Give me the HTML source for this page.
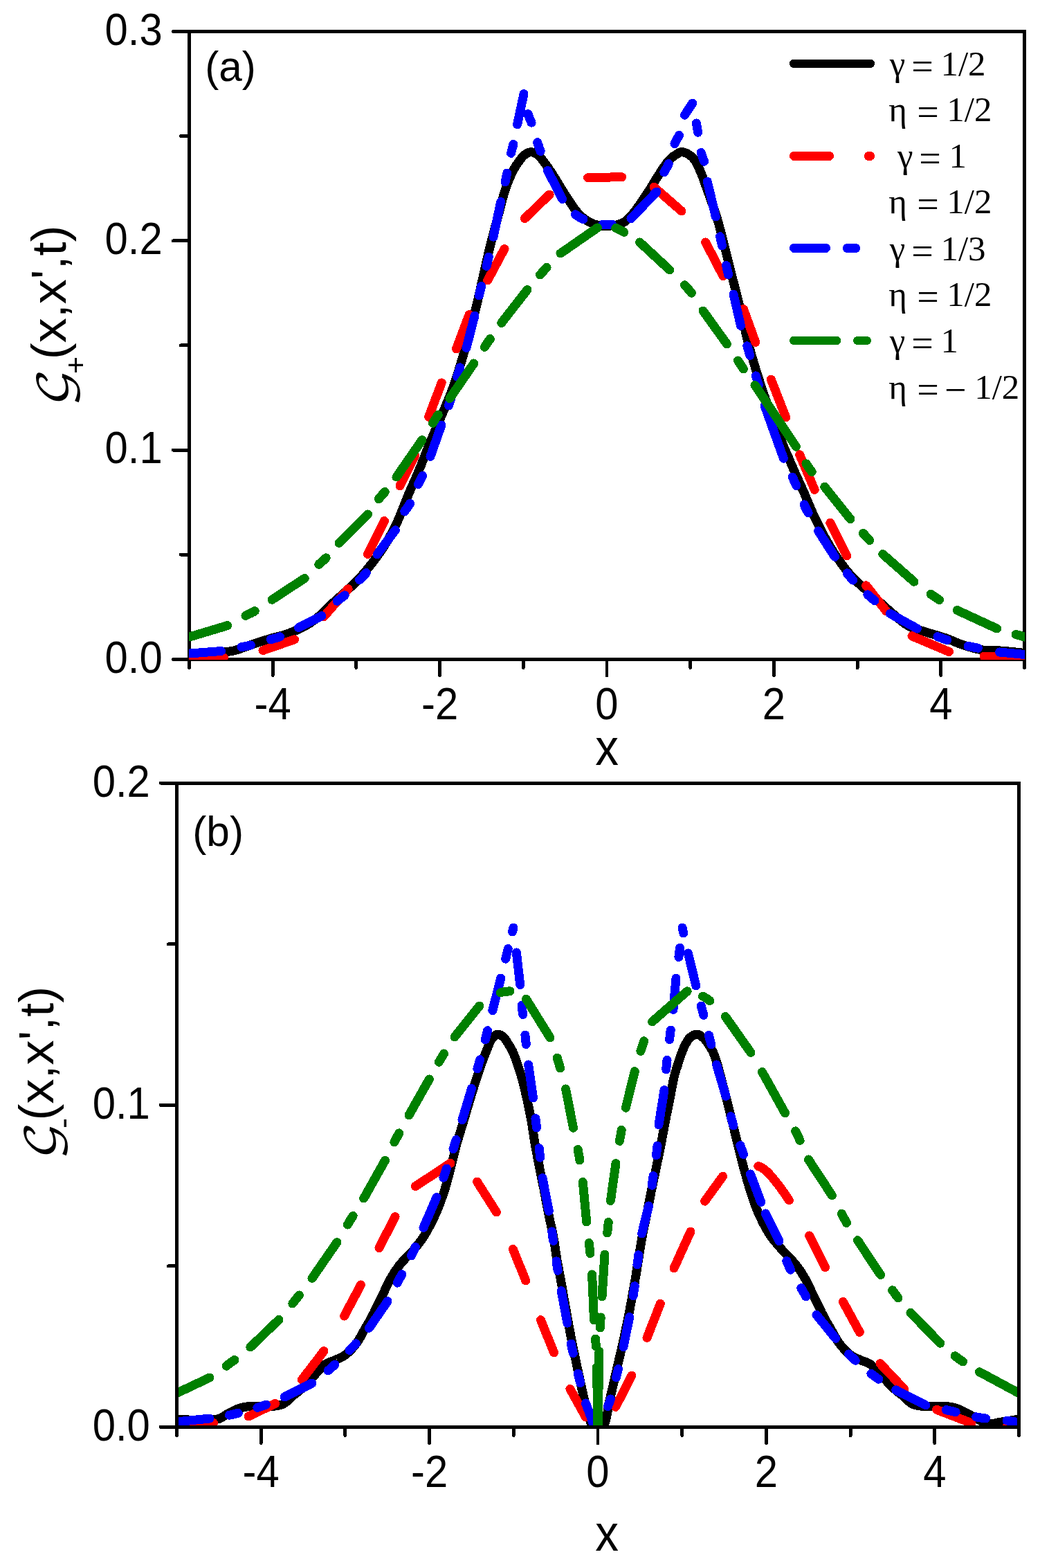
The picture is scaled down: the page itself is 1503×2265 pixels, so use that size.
<!DOCTYPE html>
<html lang="en"><head><meta charset="utf-8"><title>Figure</title>
<style>
html,body{margin:0;padding:0;background:#fff}
body{width:1503px;height:2265px;overflow:hidden}
svg text{font-family:"Liberation Sans",sans-serif;fill:#000}
svg .ser{font-family:"Liberation Serif",serif}
svg .scr{font-family:"DejaVu Math TeX Gyre","DejaVu Serif","Liberation Serif",serif}
</style></head><body>
<svg xmlns="http://www.w3.org/2000/svg" width="1503" height="2265" viewBox="0 0 1503 2265" style="display:block" shape-rendering="crispEdges">
<rect width="1503" height="2265" fill="#fff"/>
<g stroke="#000" stroke-width="4.9" fill="none" stroke-linecap="round">
<rect x="273.5" y="45.4" width="1207.0" height="907.0" stroke-linejoin="miter"/>
<line x1="273.5" y1="952.4" x2="273.5" y2="964.6"/>
<line x1="394.2" y1="952.4" x2="394.2" y2="975.6"/>
<line x1="514.9" y1="952.4" x2="514.9" y2="964.6"/>
<line x1="635.6" y1="952.4" x2="635.6" y2="975.6"/>
<line x1="756.3" y1="952.4" x2="756.3" y2="964.6"/>
<line x1="877.0" y1="952.4" x2="877.0" y2="975.6"/>
<line x1="997.7" y1="952.4" x2="997.7" y2="964.6"/>
<line x1="1118.4" y1="952.4" x2="1118.4" y2="975.6"/>
<line x1="1239.1" y1="952.4" x2="1239.1" y2="964.6"/>
<line x1="1359.8" y1="952.4" x2="1359.8" y2="975.6"/>
<line x1="1480.5" y1="952.4" x2="1480.5" y2="964.6"/>
<line x1="273.5" y1="952.4" x2="250.3" y2="952.4"/>
<line x1="273.5" y1="801.2" x2="261.3" y2="801.2"/>
<line x1="273.5" y1="650.1" x2="250.3" y2="650.1"/>
<line x1="273.5" y1="498.9" x2="261.3" y2="498.9"/>
<line x1="273.5" y1="347.7" x2="250.3" y2="347.7"/>
<line x1="273.5" y1="196.6" x2="261.3" y2="196.6"/>
<line x1="273.5" y1="45.4" x2="250.3" y2="45.4"/>
</g>
<clipPath id="ca"><rect x="272.9" y="45.4" width="1208.1" height="907.6"/></clipPath>
<g clip-path="url(#ca)">
<path d="M268.0,945.0 L269.8,944.9 L271.7,944.8 L273.5,944.6 L275.4,944.5 L277.2,944.4 L279.1,944.3 L280.9,944.2 L282.7,944.1 L284.6,943.9 L286.4,943.8 L288.2,943.7 L290.0,943.6 L291.7,943.5 L293.3,943.4 L295.0,943.3 L296.6,943.2 L298.2,943.1 L299.8,943.0 L301.5,942.9 L303.1,942.8 L304.7,942.7 L306.4,942.6 L308.1,942.5 L309.9,942.4 L312.0,942.3 L314.1,942.2 L316.3,942.1 L318.5,942.0 L320.7,941.9 L323.0,941.7 L325.3,941.6 L327.5,941.4 L329.8,941.2 L332.1,940.9 L334.3,940.6 L336.5,940.2 L338.7,939.7 L341.0,939.1 L343.2,938.5 L345.4,937.8 L347.6,937.0 L349.8,936.2 L352.0,935.4 L354.3,934.6 L356.5,933.7 L358.7,932.9 L360.9,932.2 L363.1,931.4 L365.3,930.7 L367.5,929.9 L369.8,929.2 L372.0,928.4 L374.2,927.7 L376.4,927.0 L378.7,926.2 L380.9,925.5 L383.1,924.8 L385.3,924.1 L387.6,923.4 L389.8,922.7 L392.0,922.0 L394.2,921.4 L396.5,920.8 L398.7,920.3 L400.9,919.7 L403.1,919.1 L405.4,918.6 L407.6,918.0 L409.8,917.3 L412.0,916.7 L414.2,916.0 L416.4,915.2 L418.7,914.4 L420.9,913.5 L423.2,912.6 L425.5,911.7 L427.8,910.7 L430.1,909.7 L432.3,908.7 L434.5,907.7 L436.7,906.6 L438.9,905.5 L441.0,904.4 L443.0,903.2 L444.8,902.1 L446.6,901.0 L448.3,899.9 L450.0,898.7 L451.7,897.5 L453.3,896.3 L454.9,895.1 L456.5,893.8 L458.1,892.5 L459.8,891.2 L461.4,889.9 L463.0,888.5 L464.8,887.0 L466.5,885.4 L468.2,883.8 L470.0,882.1 L471.7,880.4 L473.4,878.7 L475.1,877.0 L476.8,875.3 L478.6,873.5 L480.3,871.8 L482.1,870.1 L483.9,868.4 L485.8,866.6 L487.8,864.9 L489.8,863.1 L491.8,861.4 L493.9,859.6 L495.9,857.8 L498.0,856.1 L500.0,854.3 L502.0,852.5 L504.0,850.7 L505.9,848.9 L507.8,847.1 L509.6,845.4 L511.3,843.7 L513.0,842.0 L514.6,840.3 L516.2,838.7 L517.9,837.0 L519.5,835.2 L521.1,833.5 L522.7,831.7 L524.4,829.8 L526.1,827.8 L527.8,825.8 L530.0,823.1 L532.3,820.3 L534.7,817.3 L537.1,814.3 L539.5,811.1 L541.9,807.9 L544.3,804.7 L546.6,801.4 L548.9,798.2 L551.2,795.0 L553.3,791.8 L555.3,788.7 L557.0,786.0 L558.7,783.2 L560.3,780.6 L561.8,777.9 L563.3,775.2 L564.8,772.5 L566.2,769.9 L567.6,767.1 L569.0,764.4 L570.4,761.6 L571.8,758.7 L573.2,755.8 L574.8,752.5 L576.3,749.0 L577.8,745.5 L579.3,741.8 L580.8,738.2 L582.3,734.5 L583.7,730.8 L585.1,727.2 L586.6,723.6 L588.0,720.0 L589.4,716.5 L590.8,713.2 L592.0,710.4 L593.2,707.7 L594.3,705.1 L595.5,702.5 L596.6,699.9 L597.7,697.4 L598.8,694.8 L600.0,692.3 L601.1,689.6 L602.3,687.0 L603.5,684.2 L604.7,681.3 L606.2,677.6 L607.8,673.8 L609.4,669.9 L610.9,665.9 L612.6,661.9 L614.2,657.8 L615.8,653.6 L617.5,649.5 L619.2,645.3 L620.8,641.1 L622.5,637.0 L624.2,632.9 L626.0,628.7 L627.8,624.4 L629.6,620.1 L631.5,615.7 L633.4,611.3 L635.3,606.9 L637.2,602.6 L639.0,598.4 L640.7,594.3 L642.4,590.3 L644.0,586.6 L645.5,583.0 L646.5,580.6 L647.4,578.4 L648.2,576.3 L649.1,574.3 L649.9,572.3 L650.6,570.4 L651.4,568.5 L652.2,566.5 L652.9,564.5 L653.7,562.5 L654.5,560.3 L655.3,558.0 L656.4,554.9 L657.4,551.8 L658.5,548.6 L659.6,545.3 L660.7,541.9 L661.8,538.5 L662.9,535.0 L664.0,531.4 L665.1,527.8 L666.2,524.0 L667.4,520.3 L668.5,516.4 L670.0,511.4 L671.5,506.1 L673.0,500.7 L674.6,495.1 L676.2,489.3 L677.8,483.6 L679.3,477.8 L680.9,472.0 L682.4,466.2 L683.9,460.6 L685.3,455.2 L686.6,449.9 L687.7,445.5 L688.8,441.1 L689.8,436.8 L690.8,432.6 L691.7,428.4 L692.7,424.2 L693.6,420.1 L694.5,416.0 L695.4,411.9 L696.3,407.9 L697.2,404.0 L698.1,400.0 L698.9,396.5 L699.7,393.0 L700.4,389.7 L701.2,386.3 L701.9,383.0 L702.7,379.7 L703.4,376.4 L704.2,373.1 L704.9,369.8 L705.7,366.4 L706.6,363.0 L707.4,359.5 L708.4,355.6 L709.4,351.7 L710.4,347.7 L711.4,343.7 L712.5,339.6 L713.6,335.5 L714.7,331.4 L715.7,327.4 L716.8,323.4 L717.9,319.4 L719.0,315.4 L720.0,311.6 L720.9,308.1 L721.8,304.6 L722.7,301.1 L723.6,297.6 L724.5,294.2 L725.4,290.8 L726.3,287.4 L727.2,284.1 L728.1,280.9 L729.0,277.7 L730.0,274.7 L731.0,271.7 L731.8,269.4 L732.6,267.1 L733.5,264.9 L734.3,262.7 L735.2,260.6 L736.0,258.5 L736.9,256.5 L737.8,254.5 L738.7,252.5 L739.6,250.6 L740.5,248.8 L741.4,247.0 L742.2,245.6 L742.9,244.1 L743.7,242.8 L744.5,241.4 L745.3,240.1 L746.1,238.8 L746.9,237.5 L747.8,236.3 L748.6,235.1 L749.4,234.0 L750.2,232.9 L751.0,231.8 L751.6,231.0 L752.3,230.1 L752.9,229.3 L753.5,228.5 L754.1,227.8 L754.7,227.0 L755.4,226.3 L756.0,225.7 L756.7,225.0 L757.3,224.4 L758.0,223.8 L758.7,223.3 L759.3,222.9 L760.0,222.4 L760.7,222.0 L761.3,221.6 L762.0,221.2 L762.7,220.9 L763.4,220.6 L764.1,220.3 L764.8,220.1 L765.6,220.0 L766.3,219.9 L767.0,219.8 L767.8,219.8 L768.6,219.9 L769.4,220.0 L770.3,220.2 L771.1,220.4 L772.0,220.7 L772.8,221.0 L773.7,221.4 L774.5,221.8 L775.3,222.3 L776.1,222.8 L776.9,223.3 L777.9,224.0 L778.8,224.9 L779.7,225.8 L780.6,226.8 L781.5,227.8 L782.4,229.0 L783.3,230.1 L784.2,231.3 L785.0,232.5 L785.9,233.7 L786.7,234.9 L787.6,236.0 L788.5,237.2 L789.4,238.4 L790.3,239.7 L791.2,240.9 L792.1,242.1 L793.0,243.4 L793.8,244.7 L794.7,246.0 L795.6,247.3 L796.5,248.7 L797.4,250.0 L798.3,251.4 L799.3,253.0 L800.4,254.7 L801.4,256.4 L802.5,258.1 L803.5,259.8 L804.6,261.6 L805.7,263.4 L806.7,265.1 L807.8,266.9 L808.8,268.6 L809.9,270.3 L810.9,272.0 L811.9,273.5 L812.8,275.1 L813.8,276.6 L814.7,278.1 L815.6,279.6 L816.6,281.0 L817.5,282.5 L818.5,284.0 L819.4,285.5 L820.4,286.9 L821.4,288.4 L822.4,289.9 L823.4,291.4 L824.5,293.0 L825.6,294.6 L826.6,296.2 L827.7,297.8 L828.8,299.4 L829.9,301.0 L831.0,302.5 L832.1,304.0 L833.3,305.4 L834.4,306.8 L835.6,308.1 L836.6,309.2 L837.6,310.2 L838.6,311.2 L839.7,312.2 L840.7,313.1 L841.8,314.0 L842.8,314.9 L843.9,315.7 L845.0,316.5 L846.1,317.3 L847.2,318.1 L848.3,318.8 L849.4,319.5 L850.5,320.1 L851.6,320.7 L852.7,321.3 L853.8,321.8 L855.0,322.3 L856.1,322.8 L857.3,323.3 L858.5,323.7 L859.6,324.1 L860.8,324.5 L862.0,324.8 L863.2,325.1 L864.4,325.4 L865.6,325.6 L866.8,325.8 L868.0,326.0 L869.2,326.2 L870.5,326.3 L871.7,326.4 L873.0,326.4 L874.3,326.4 L875.6,326.4 L877.0,326.4 L878.8,326.3 L880.7,326.2 L882.6,326.0 L884.6,325.8 L886.7,325.6 L888.7,325.2 L890.8,324.9 L892.8,324.4 L894.7,323.9 L896.6,323.4 L898.4,322.7 L900.0,322.0 L901.3,321.3 L902.5,320.5 L903.7,319.7 L904.8,318.8 L905.9,317.9 L907.0,316.9 L908.0,315.9 L909.0,314.9 L910.0,313.8 L911.0,312.7 L912.0,311.6 L913.0,310.5 L914.2,309.2 L915.3,307.8 L916.5,306.4 L917.6,304.9 L918.8,303.5 L919.9,301.9 L921.0,300.4 L922.1,298.8 L923.2,297.2 L924.3,295.7 L925.4,294.1 L926.5,292.5 L927.6,290.9 L928.8,289.2 L929.9,287.5 L931.1,285.8 L932.2,284.1 L933.3,282.4 L934.4,280.7 L935.6,278.9 L936.7,277.2 L937.8,275.5 L938.9,273.7 L940.0,272.0 L941.1,270.3 L942.2,268.5 L943.3,266.7 L944.3,265.0 L945.4,263.2 L946.5,261.4 L947.5,259.7 L948.6,257.9 L949.7,256.2 L950.8,254.4 L951.9,252.7 L953.0,251.0 L954.1,249.3 L955.2,247.6 L956.3,245.9 L957.5,244.2 L958.6,242.5 L959.7,240.8 L960.9,239.2 L962.0,237.6 L963.1,236.1 L964.3,234.6 L965.4,233.3 L966.5,232.0 L967.3,231.1 L968.1,230.3 L968.9,229.6 L969.6,228.8 L970.4,228.1 L971.2,227.5 L972.0,226.8 L972.8,226.2 L973.5,225.6 L974.4,225.1 L975.2,224.5 L976.0,224.0 L976.8,223.5 L977.6,223.0 L978.4,222.5 L979.2,222.0 L980.0,221.5 L980.8,221.0 L981.7,220.6 L982.5,220.2 L983.3,219.9 L984.2,219.7 L985.1,219.6 L986.0,219.6 L987.2,219.7 L988.4,220.0 L989.7,220.4 L991.0,220.9 L992.3,221.5 L993.6,222.2 L995.0,223.0 L996.3,223.8 L997.5,224.8 L998.8,225.7 L999.9,226.7 L1001.0,227.7 L1002.1,228.9 L1003.2,230.2 L1004.2,231.6 L1005.2,233.1 L1006.1,234.7 L1006.9,236.3 L1007.8,238.0 L1008.6,239.6 L1009.4,241.3 L1010.2,243.1 L1010.9,244.7 L1011.7,246.4 L1012.5,248.1 L1013.2,249.7 L1013.9,251.4 L1014.5,253.0 L1015.1,254.7 L1015.7,256.4 L1016.4,258.1 L1017.0,259.9 L1017.6,261.8 L1018.3,263.7 L1019.0,265.6 L1019.7,267.7 L1020.9,270.9 L1022.1,274.3 L1023.4,277.9 L1024.8,281.6 L1026.2,285.5 L1027.6,289.4 L1029.0,293.4 L1030.4,297.5 L1031.8,301.4 L1033.2,305.4 L1034.4,309.3 L1035.6,313.0 L1036.6,316.4 L1037.6,319.8 L1038.6,323.1 L1039.5,326.5 L1040.4,329.8 L1041.3,333.1 L1042.1,336.4 L1043.0,339.7 L1043.8,343.0 L1044.6,346.3 L1045.5,349.5 L1046.3,352.8 L1047.1,355.9 L1047.9,359.0 L1048.7,362.1 L1049.4,365.2 L1050.2,368.2 L1051.0,371.3 L1051.7,374.4 L1052.5,377.4 L1053.2,380.5 L1054.0,383.7 L1054.8,386.8 L1055.6,390.0 L1056.5,393.4 L1057.4,396.9 L1058.2,400.3 L1059.1,403.8 L1060.0,407.2 L1060.9,410.7 L1061.9,414.3 L1062.8,417.8 L1063.7,421.5 L1064.7,425.2 L1065.6,429.1 L1066.6,433.0 L1067.8,438.1 L1069.1,443.4 L1070.4,448.9 L1071.6,454.5 L1072.9,460.2 L1074.3,466.0 L1075.6,471.8 L1077.0,477.6 L1078.3,483.3 L1079.7,489.0 L1081.1,494.5 L1082.5,499.8 L1083.8,504.5 L1085.0,509.0 L1086.3,513.5 L1087.6,517.9 L1088.9,522.3 L1090.2,526.6 L1091.5,530.9 L1092.8,535.3 L1094.2,539.6 L1095.6,544.0 L1097.0,548.5 L1098.5,553.0 L1100.1,558.0 L1101.8,563.0 L1103.5,568.0 L1105.2,573.1 L1106.9,578.2 L1108.7,583.3 L1110.5,588.4 L1112.4,593.5 L1114.2,598.7 L1116.1,603.8 L1118.1,608.9 L1120.0,614.0 L1122.0,619.2 L1124.2,624.6 L1126.4,630.0 L1128.6,635.4 L1130.9,640.8 L1133.1,646.2 L1135.4,651.5 L1137.7,656.7 L1139.9,661.8 L1142.0,666.8 L1144.0,671.5 L1146.0,676.0 L1147.4,679.2 L1148.7,682.2 L1150.0,685.1 L1151.3,688.0 L1152.5,690.7 L1153.7,693.4 L1154.9,696.1 L1156.2,698.8 L1157.4,701.5 L1158.6,704.2 L1159.9,707.1 L1161.2,710.0 L1162.7,713.4 L1164.1,716.8 L1165.6,720.3 L1167.1,723.8 L1168.5,727.3 L1170.0,730.9 L1171.6,734.4 L1173.1,738.0 L1174.7,741.7 L1176.3,745.3 L1178.0,748.9 L1179.8,752.5 L1181.8,756.5 L1183.8,760.5 L1185.9,764.6 L1188.1,768.7 L1190.3,772.8 L1192.5,776.9 L1194.8,781.0 L1197.1,785.1 L1199.4,789.1 L1201.8,793.0 L1204.1,796.7 L1206.5,800.4 L1208.6,803.6 L1210.7,806.7 L1212.9,809.8 L1215.0,812.8 L1217.2,815.8 L1219.4,818.7 L1221.6,821.6 L1223.8,824.4 L1226.1,827.1 L1228.4,829.8 L1230.7,832.4 L1233.0,835.0 L1235.1,837.2 L1237.3,839.4 L1239.5,841.5 L1241.7,843.5 L1244.0,845.5 L1246.2,847.4 L1248.5,849.4 L1250.7,851.3 L1253.0,853.2 L1255.2,855.1 L1257.5,857.0 L1259.7,859.0 L1261.9,861.0 L1264.1,863.0 L1266.3,865.1 L1268.5,867.1 L1270.7,869.1 L1273.0,871.1 L1275.2,873.2 L1277.4,875.2 L1279.6,877.2 L1281.8,879.1 L1284.1,881.1 L1286.3,883.0 L1288.5,884.9 L1290.7,886.8 L1292.9,888.7 L1295.0,890.7 L1297.2,892.6 L1299.4,894.5 L1301.7,896.3 L1303.9,898.1 L1306.1,899.8 L1308.4,901.4 L1310.7,902.8 L1313.0,904.2 L1315.1,905.3 L1317.3,906.3 L1319.5,907.2 L1321.7,908.0 L1323.9,908.8 L1326.1,909.5 L1328.3,910.2 L1330.6,910.8 L1332.8,911.5 L1335.0,912.1 L1337.3,912.8 L1339.5,913.5 L1341.7,914.2 L1343.9,914.9 L1346.1,915.5 L1348.3,916.2 L1350.5,916.8 L1352.8,917.4 L1355.0,918.1 L1357.2,918.7 L1359.4,919.4 L1361.6,920.0 L1363.8,920.8 L1366.0,921.5 L1368.2,922.3 L1370.5,923.2 L1372.7,924.0 L1374.9,925.0 L1377.1,925.9 L1379.3,926.8 L1381.6,927.8 L1383.8,928.7 L1386.0,929.6 L1388.2,930.4 L1390.5,931.2 L1392.7,932.0 L1394.9,932.7 L1397.1,933.4 L1399.3,934.1 L1401.5,934.7 L1403.8,935.4 L1406.0,936.0 L1408.2,936.5 L1410.5,937.1 L1412.7,937.6 L1414.9,938.0 L1417.2,938.4 L1419.4,938.8 L1421.6,939.1 L1423.8,939.3 L1425.9,939.4 L1428.0,939.5 L1430.2,939.6 L1432.3,939.6 L1434.5,939.6 L1436.7,939.7 L1439.0,939.7 L1441.3,939.8 L1443.6,939.9 L1446.0,940.0 L1449.1,940.2 L1452.2,940.5 L1455.4,940.8 L1458.7,941.1 L1462.1,941.5 L1465.5,941.8 L1468.9,942.2 L1472.4,942.6 L1475.8,942.9 L1479.2,943.3 L1482.6,943.7 L1486.0,944.0" fill="none" stroke="#000" stroke-width="13" stroke-linecap="round" stroke-linejoin="round"/>
<path d="M274.0,951.0 L323.4,950.0 M380.0,939.5 L425.5,923.8 M467.9,890.8 L503.2,850.7 M531.5,800.4 L555.4,752.5 M578.0,702.0 L599.6,658.0 M619.6,602.2 L638.2,553.0 M659.5,503.8 L678.1,454.5 M704.7,405.0 L729.0,359.5 M758.3,315.6 L794.2,281.0 M849.6,256.6 L898.7,255.7 M945.2,270.3 L985.0,305.0 M1019.7,350.0 L1045.0,398.6 M1074.5,446.5 L1091.8,494.4 M1114.4,548.2 L1135.7,603.0 M1155.7,656.8 L1177.2,707.3 M1199.8,755.2 L1223.8,803.0 M1251.7,845.7 L1281.0,883.0 M1318.0,918.8 L1371.5,941.5 M1422.0,948.0 L1486.0,951.0" fill="none" stroke="#f00" stroke-width="13" stroke-linecap="round" stroke-linejoin="round"/>
<path d="M274.0,944.0 L319.5,940.5 M349.0,934.6 L349.2,934.5 L350.5,934.3 L351.7,934.1 L352.9,933.9 L354.0,933.7 L355.2,933.5 L356.3,933.3 L357.4,933.1 L358.6,932.9 L359.8,932.6 L361.1,932.3 L362.5,932.0 M391.3,923.7 L391.7,923.6 L392.9,923.3 L394.0,923.0 L395.0,922.7 L396.1,922.4 L397.1,922.1 L398.1,921.9 L399.1,921.5 L400.2,921.2 L401.3,920.9 L402.5,920.5 L403.7,920.0 L404.5,919.7 M431.5,906.7 L464.8,889.7 M487.1,868.3 L487.5,868.0 L488.5,867.2 L489.4,866.5 L490.3,865.8 L491.2,865.2 L492.0,864.6 L492.8,864.1 L493.6,863.5 L494.4,862.9 L495.3,862.3 L496.1,861.6 L497.0,860.8 L498.0,860.0 L498.2,859.8 M519.6,837.6 L520.4,836.8 L521.3,835.9 L522.1,835.1 L522.8,834.4 L523.6,833.6 L524.3,832.9 L525.0,832.2 L525.7,831.5 L526.4,830.7 L527.2,829.9 L528.0,829.0 L528.8,828.0 L529.2,827.5 M545.0,801.0 L571.4,765.8 M584.8,738.8 L585.4,737.8 L586.1,736.8 L586.8,735.8 L587.4,734.8 L588.1,733.9 L588.8,733.0 L589.4,732.1 L590.1,731.2 L590.7,730.3 L591.4,729.3 L592.0,728.2 L592.5,727.3 M604.3,699.6 L604.6,699.0 L605.2,697.7 L605.8,696.6 L606.3,695.5 L606.9,694.5 L607.4,693.5 L608.0,692.5 L608.5,691.5 L609.1,690.5 L609.6,689.5 L610.2,688.4 L610.7,687.3 M622.0,659.4 L638.0,614.0 M648.5,585.9 L648.8,585.0 L649.8,581.8 L650.8,578.6 L651.8,575.2 L652.5,572.8 M660.7,544.0 L660.8,543.7 L661.9,540.3 L663.0,536.8 L664.1,533.4 L664.9,530.9 M674.0,502.4 L686.0,456.0 M692.3,426.8 L692.7,425.0 L693.5,421.8 L694.3,418.6 L695.1,415.4 L695.6,413.5 M703.1,384.6 L703.9,381.5 L704.7,378.0 L705.5,374.5 L706.3,371.3 M713.0,342.2 L723.7,291.6 M730.0,263.1 L730.0,262.9 L730.4,261.4 L730.7,259.9 L731.0,258.4 L731.3,256.9 L731.7,255.4 L732.0,253.9 L732.3,252.3 L732.7,250.7 L732.8,250.0 M738.5,221.4 L738.6,220.9 L739.0,219.6 L739.3,218.2 L739.6,216.9 L740.0,215.7 L740.3,214.5 L740.6,213.2 L741.0,212.0 L741.3,210.7 L741.6,209.3 L741.8,208.4 M747.6,179.8 L757.0,135.5 M763.0,164.6 L763.3,165.4 L763.7,166.8 L764.2,168.1 L764.8,169.4 L765.3,170.7 L765.8,171.9 L766.3,173.1 L766.9,174.4 L767.4,175.6 L767.9,177.0 L768.1,177.2 M776.7,205.7 L777.0,206.5 L777.4,207.9 L777.9,209.1 L778.3,210.4 L778.7,211.5 L779.0,212.7 L779.4,213.8 L779.8,214.9 L780.2,216.0 L780.6,217.2 L781.1,218.4 L781.1,218.5 M791.5,246.4 L812.8,287.6 M831.5,309.8 L832.8,310.8 L834.2,311.8 L835.6,312.7 L837.0,313.5 L838.4,314.4 L839.9,315.1 L841.3,315.9 L842.9,316.6 L842.9,316.7 M871.0,324.1 L871.8,324.2 L873.6,324.3 L875.3,324.3 L877.1,324.4 L878.9,324.3 L880.6,324.3 L882.3,324.2 L884.1,324.0 L884.3,324.0 M912.0,315.6 L949.0,277.0 M959.8,248.9 L959.8,248.9 L960.5,247.5 L961.2,246.2 L961.9,245.0 L962.6,243.7 L963.3,242.5 L963.9,241.2 L964.6,239.9 L965.2,238.6 L965.9,237.2 L966.2,236.5 M975.0,207.6 L975.0,207.5 L975.7,206.1 L976.3,204.8 L977.0,203.5 L977.7,202.2 L978.4,201.0 L979.1,199.8 L979.8,198.5 L980.5,197.2 L981.2,195.9 L981.4,195.4 M989.5,166.3 L1000.7,149.1 M1006.4,178.0 L1006.7,179.5 L1006.9,180.7 L1007.1,181.8 L1007.3,182.8 L1007.4,183.7 L1007.6,184.6 L1007.7,185.5 L1007.9,186.4 L1008.0,187.3 L1008.2,188.3 L1008.3,189.3 L1008.5,190.3 L1008.7,191.3 M1013.2,220.5 L1013.4,221.3 L1013.8,222.7 L1014.2,224.0 L1014.7,225.3 L1015.2,226.6 L1015.7,227.8 L1016.1,229.0 L1016.6,230.3 L1017.1,231.5 L1017.5,232.8 L1017.6,233.2 M1022.3,262.3 L1034.3,313.0 M1040.6,341.7 L1040.9,343.1 L1041.3,344.6 L1041.6,346.0 L1041.9,347.5 L1042.2,349.0 L1042.5,350.5 L1042.9,352.1 L1043.2,353.8 L1043.5,354.8 M1049.5,383.5 L1049.9,385.2 L1050.5,388.0 L1051.2,391.0 L1052.0,394.0 L1052.6,396.6 M1060.0,425.0 L1070.5,470.5 M1079.8,499.8 L1080.8,503.0 L1081.7,506.2 L1082.7,509.6 L1083.7,512.9 L1083.8,513.4 M1092.4,542.9 L1092.9,544.7 L1094.0,548.4 L1095.1,552.2 L1096.2,556.0 L1096.3,556.5 M1105.0,586.0 L1132.4,662.2 M1145.1,689.0 L1145.4,689.6 L1146.7,692.4 L1148.0,695.3 L1149.4,698.5 L1150.7,701.4 M1162.1,728.9 L1163.3,731.6 L1165.0,735.0 L1167.1,739.1 L1168.1,741.0 M1182.5,767.0 L1206.5,804.4 M1224.1,827.9 L1224.9,828.9 L1227.7,832.3 L1230.1,835.1 L1232.4,837.7 L1232.8,838.2 M1253.8,858.8 L1254.2,859.2 L1257.0,861.6 L1260.5,864.6 L1264.0,867.6 M1286.5,886.5 L1325.5,908.0 M1355.0,919.7 L1358.9,921.1 L1363.5,922.8 L1367.2,924.1 L1368.6,924.6 M1399.1,933.3 L1402.3,934.0 L1406.0,934.8 L1410.2,935.7 L1413.3,936.2 M1444.5,942.0 L1486.0,946.0" fill="none" stroke="#00f" stroke-width="13" stroke-linecap="round" stroke-linejoin="round"/>
<path d="M274.0,920.0 L328.6,903.6 M355.0,889.4 L355.7,889.0 L356.9,888.4 L358.0,887.9 L359.1,887.4 L360.1,886.9 L361.2,886.4 L362.2,885.9 L363.2,885.4 L364.3,884.8 L365.4,884.3 L366.6,883.7 L367.8,883.0 L368.3,882.7 M393.2,866.2 L440.2,835.4 M460.7,815.4 L461.5,814.7 L462.3,813.9 L463.2,813.2 L464.0,812.5 L464.8,811.8 L465.6,811.0 L466.4,810.3 L467.3,809.6 L468.1,808.8 L469.0,807.9 L470.0,807.0 L471.2,805.8 M490.0,784.3 L531.5,743.0 M547.4,720.8 L547.5,720.6 L548.8,719.0 L549.6,718.0 L550.4,717.0 L551.2,716.2 L551.9,715.3 L552.7,714.5 L553.4,713.8 L554.1,713.0 L554.8,712.2 L555.6,711.4 L556.3,710.6 M573.0,689.0 L610.0,635.5 M625.4,611.2 L625.7,610.8 L627.5,607.9 L629.3,605.1 L631.1,602.3 L632.9,599.6 L633.3,599.1 M650.0,575.6 L684.8,525.0 M700.4,501.4 L701.2,500.1 L703.1,497.2 L705.0,494.4 L706.9,491.7 L708.3,489.6 M724.7,466.5 L762.0,418.6 M780.5,396.9 L782.2,395.1 L784.3,392.7 L786.5,390.3 L788.6,388.0 L790.1,386.4 M810.0,366.0 L863.4,329.0 M889.7,329.4 L889.8,329.4 L890.9,329.8 L891.9,330.3 L893.0,330.8 L894.1,331.3 L895.1,331.8 L896.2,332.4 L897.3,332.9 L898.5,333.5 L899.6,334.2 L900.8,334.8 L901.8,335.4 M924.6,350.0 L967.8,390.0 M989.4,411.7 L990.5,412.9 L993.0,415.7 L995.5,418.5 L997.8,421.3 L999.4,423.3 M1016.0,449.0 L1050.5,497.0 M1066.5,520.9 L1066.5,521.0 L1068.3,523.7 L1070.1,526.4 L1071.9,529.1 L1073.7,531.9 L1074.4,532.9 M1091.0,556.4 L1150.5,645.2 M1165.0,669.9 L1165.6,670.7 L1167.1,673.1 L1168.8,675.6 L1170.5,678.0 L1172.2,680.2 L1173.2,681.6 M1191.8,703.3 L1229.0,749.8 M1247.4,770.3 L1247.9,770.9 L1249.8,772.9 L1251.7,775.0 L1253.6,777.1 L1255.5,779.2 L1256.7,780.5 M1275.7,800.4 L1321.0,840.3 M1345.0,858.2 L1345.1,858.3 L1347.5,859.9 L1350.0,861.6 L1352.6,863.3 L1355.3,865.1 L1357.5,866.5 M1383.4,881.6 L1440.7,908.0 M1468.1,916.5 L1471.0,917.3 L1474.8,918.3 L1478.5,919.4 L1482.2,920.4 L1486.0,921.5" fill="none" stroke="#008000" stroke-width="13" stroke-linecap="round" stroke-linejoin="round"/>
</g>
<clipPath id="cb"><rect x="255.45" y="1131.35" width="1217.1" height="930.0500000000002"/></clipPath>
<g clip-path="url(#cb)">
<path d="M250.0,2050.7 L252.5,2050.7 L255.0,2050.8 L257.6,2050.8 L260.1,2050.8 L262.7,2050.9 L265.2,2050.9 L267.8,2050.9 L270.3,2050.9 L272.8,2051.0 L275.2,2051.0 L277.6,2051.0 L280.0,2051.0 L282.0,2051.0 L284.1,2051.0 L286.1,2051.0 L288.1,2051.0 L290.1,2051.0 L292.1,2051.0 L294.0,2051.0 L295.9,2051.0 L297.8,2051.0 L299.6,2050.9 L301.3,2050.9 L303.0,2050.8 L304.3,2050.7 L305.5,2050.7 L306.7,2050.7 L307.8,2050.6 L308.9,2050.6 L310.0,2050.5 L311.1,2050.4 L312.2,2050.3 L313.3,2050.2 L314.3,2050.0 L315.4,2049.7 L316.5,2049.4 L317.6,2049.0 L318.8,2048.5 L319.9,2047.9 L321.0,2047.3 L322.1,2046.6 L323.2,2045.9 L324.3,2045.2 L325.4,2044.5 L326.5,2043.8 L327.6,2043.1 L328.7,2042.4 L329.8,2041.8 L330.9,2041.2 L332.0,2040.6 L333.1,2040.1 L334.2,2039.5 L335.3,2038.9 L336.4,2038.4 L337.5,2037.8 L338.6,2037.3 L339.7,2036.8 L340.8,2036.3 L342.0,2035.8 L343.1,2035.4 L344.2,2035.0 L345.3,2034.6 L346.4,2034.3 L347.5,2034.0 L348.6,2033.6 L349.8,2033.4 L350.9,2033.1 L352.0,2032.8 L353.1,2032.6 L354.3,2032.4 L355.4,2032.2 L356.5,2032.0 L357.6,2031.9 L358.7,2031.7 L359.8,2031.6 L360.9,2031.6 L362.0,2031.5 L363.1,2031.5 L364.3,2031.5 L365.4,2031.5 L366.5,2031.4 L367.6,2031.4 L368.7,2031.4 L369.8,2031.4 L370.9,2031.4 L372.0,2031.4 L373.1,2031.4 L374.2,2031.4 L375.3,2031.4 L376.4,2031.4 L377.5,2031.4 L378.6,2031.4 L379.7,2031.4 L380.8,2031.4 L381.9,2031.4 L383.0,2031.4 L384.1,2031.4 L385.2,2031.4 L386.3,2031.4 L387.5,2031.4 L388.6,2031.4 L389.7,2031.5 L390.8,2031.4 L391.9,2031.4 L393.1,2031.4 L394.2,2031.3 L395.3,2031.2 L396.4,2031.1 L397.5,2031.0 L398.6,2030.8 L399.8,2030.6 L400.9,2030.5 L402.0,2030.3 L403.2,2030.0 L404.3,2029.8 L405.4,2029.5 L406.5,2029.1 L407.6,2028.7 L408.6,2028.3 L409.7,2027.8 L410.9,2027.1 L412.0,2026.4 L413.1,2025.5 L414.3,2024.6 L415.4,2023.6 L416.5,2022.6 L417.5,2021.6 L418.6,2020.5 L419.7,2019.5 L420.8,2018.4 L421.9,2017.5 L423.0,2016.5 L424.1,2015.6 L425.2,2014.7 L426.3,2013.8 L427.4,2013.0 L428.6,2012.1 L429.7,2011.3 L430.8,2010.4 L431.9,2009.5 L433.0,2008.6 L434.1,2007.7 L435.2,2006.8 L436.3,2005.8 L437.5,2004.7 L438.6,2003.6 L439.7,2002.5 L440.8,2001.4 L441.9,2000.2 L443.0,1999.0 L444.1,1997.8 L445.3,1996.6 L446.4,1995.4 L447.6,1994.2 L448.8,1992.9 L450.0,1991.6 L451.5,1990.0 L453.1,1988.2 L454.7,1986.4 L456.3,1984.5 L458.0,1982.6 L459.6,1980.7 L461.3,1978.9 L463.0,1977.1 L464.8,1975.3 L466.5,1973.7 L468.2,1972.3 L469.9,1971.0 L471.3,1970.1 L472.7,1969.3 L474.1,1968.6 L475.5,1968.0 L476.9,1967.4 L478.3,1966.9 L479.8,1966.4 L481.2,1965.9 L482.6,1965.4 L483.9,1964.9 L485.3,1964.3 L486.6,1963.7 L487.8,1963.1 L488.9,1962.6 L490.1,1962.0 L491.2,1961.5 L492.3,1961.0 L493.4,1960.4 L494.5,1959.9 L495.6,1959.3 L496.7,1958.6 L497.7,1957.9 L498.8,1957.2 L499.9,1956.4 L501.2,1955.3 L502.6,1954.2 L503.9,1953.0 L505.2,1951.7 L506.6,1950.4 L507.9,1949.1 L509.2,1947.6 L510.5,1946.2 L511.7,1944.8 L512.9,1943.3 L514.1,1941.8 L515.2,1940.4 L516.2,1939.0 L517.2,1937.5 L518.1,1936.1 L519.0,1934.6 L519.9,1933.1 L520.8,1931.6 L521.6,1930.0 L522.4,1928.5 L523.3,1927.0 L524.1,1925.4 L524.9,1923.9 L525.8,1922.4 L526.7,1920.9 L527.6,1919.3 L528.5,1917.8 L529.4,1916.2 L530.3,1914.7 L531.2,1913.1 L532.1,1911.6 L533.0,1910.0 L533.9,1908.5 L534.8,1906.9 L535.7,1905.4 L536.5,1903.8 L537.3,1902.3 L538.1,1900.7 L538.9,1899.2 L539.7,1897.6 L540.5,1896.1 L541.2,1894.5 L542.0,1893.0 L542.8,1891.4 L543.5,1889.9 L544.3,1888.3 L545.0,1886.8 L545.8,1885.2 L546.6,1883.6 L547.4,1882.0 L548.1,1880.4 L548.9,1878.8 L549.7,1877.2 L550.5,1875.6 L551.2,1873.9 L552.0,1872.3 L552.8,1870.7 L553.5,1869.1 L554.3,1867.5 L555.1,1865.9 L555.9,1864.3 L556.6,1862.7 L557.4,1861.2 L558.1,1859.6 L558.9,1858.0 L559.6,1856.4 L560.4,1854.9 L561.2,1853.3 L562.0,1851.8 L562.8,1850.2 L563.6,1848.7 L564.4,1847.2 L565.2,1845.8 L566.1,1844.3 L566.9,1842.9 L567.8,1841.4 L568.7,1840.0 L569.5,1838.6 L570.4,1837.2 L571.3,1835.9 L572.2,1834.5 L573.2,1833.2 L574.1,1831.9 L575.0,1830.6 L575.9,1829.5 L576.7,1828.4 L577.6,1827.3 L578.4,1826.2 L579.3,1825.2 L580.2,1824.2 L581.1,1823.1 L582.0,1822.1 L582.9,1821.1 L583.8,1820.1 L584.8,1819.1 L585.7,1818.0 L586.7,1816.9 L587.8,1815.7 L588.9,1814.6 L590.0,1813.5 L591.2,1812.3 L592.3,1811.2 L593.4,1810.0 L594.6,1808.9 L595.7,1807.7 L596.8,1806.5 L597.9,1805.3 L599.0,1804.0 L600.2,1802.6 L601.3,1801.3 L602.4,1799.9 L603.6,1798.5 L604.7,1797.1 L605.8,1795.6 L606.9,1794.1 L608.0,1792.6 L609.1,1791.0 L610.3,1789.4 L611.4,1787.7 L612.5,1786.0 L614.0,1783.6 L615.5,1781.1 L617.0,1778.5 L618.5,1775.8 L620.0,1773.0 L621.5,1770.2 L623.0,1767.3 L624.4,1764.4 L625.9,1761.4 L627.3,1758.5 L628.6,1755.6 L629.9,1752.8 L631.1,1750.1 L632.3,1747.3 L633.4,1744.6 L634.5,1741.8 L635.6,1739.0 L636.6,1736.2 L637.6,1733.5 L638.6,1730.7 L639.6,1727.9 L640.6,1725.1 L641.5,1722.3 L642.4,1719.5 L643.3,1716.7 L644.1,1714.0 L644.9,1711.2 L645.7,1708.4 L646.5,1705.7 L647.2,1702.9 L648.0,1700.1 L648.7,1697.3 L649.4,1694.5 L650.2,1691.8 L650.9,1689.0 L651.6,1686.2 L652.3,1683.4 L653.0,1680.7 L653.7,1677.9 L654.4,1675.1 L655.0,1672.4 L655.7,1669.6 L656.4,1666.8 L657.0,1664.1 L657.7,1661.3 L658.4,1658.5 L659.2,1655.8 L659.9,1653.0 L660.7,1650.2 L661.5,1647.4 L662.3,1644.7 L663.1,1641.9 L664.0,1639.1 L664.8,1636.3 L665.7,1633.6 L666.5,1630.8 L667.4,1628.0 L668.2,1625.2 L669.1,1622.5 L669.9,1619.7 L670.7,1616.9 L671.5,1614.1 L672.4,1611.4 L673.2,1608.6 L674.0,1605.8 L674.8,1603.0 L675.6,1600.3 L676.5,1597.5 L677.3,1594.7 L678.1,1591.9 L679.0,1589.2 L679.8,1586.4 L680.7,1583.6 L681.5,1580.7 L682.4,1577.9 L683.3,1575.0 L684.2,1572.1 L685.1,1569.2 L686.0,1566.3 L686.9,1563.5 L687.7,1560.8 L688.6,1558.2 L689.4,1555.6 L690.2,1553.2 L690.8,1551.5 L691.3,1549.8 L691.9,1548.2 L692.4,1546.7 L692.9,1545.1 L693.4,1543.6 L693.9,1542.2 L694.4,1540.7 L695.0,1539.3 L695.5,1537.9 L696.0,1536.4 L696.5,1535.0 L697.0,1533.7 L697.5,1532.4 L698.0,1531.1 L698.5,1529.8 L698.9,1528.5 L699.4,1527.2 L699.9,1526.0 L700.4,1524.7 L700.9,1523.5 L701.4,1522.3 L701.8,1521.1 L702.3,1519.9 L702.7,1518.9 L703.1,1517.8 L703.5,1516.8 L703.9,1515.8 L704.2,1514.8 L704.6,1513.8 L705.0,1512.8 L705.4,1511.8 L705.7,1510.8 L706.1,1509.9 L706.6,1508.9 L707.0,1508.0 L707.4,1507.1 L707.8,1506.3 L708.2,1505.4 L708.6,1504.5 L709.1,1503.7 L709.5,1502.9 L709.9,1502.0 L710.4,1501.3 L710.9,1500.5 L711.4,1499.8 L711.9,1499.1 L712.5,1498.5 L713.0,1498.0 L713.6,1497.5 L714.2,1496.9 L714.7,1496.4 L715.4,1496.0 L716.0,1495.5 L716.6,1495.1 L717.2,1494.8 L717.9,1494.5 L718.5,1494.3 L719.2,1494.2 L719.8,1494.1 L720.5,1494.1 L721.2,1494.3 L721.9,1494.5 L722.6,1494.8 L723.3,1495.1 L724.0,1495.5 L724.7,1496.0 L725.4,1496.4 L726.1,1496.9 L726.8,1497.5 L727.4,1498.0 L728.0,1498.5 L728.6,1499.1 L729.2,1499.7 L729.7,1500.3 L730.2,1501.0 L730.7,1501.7 L731.2,1502.4 L731.6,1503.1 L732.1,1503.9 L732.6,1504.6 L733.0,1505.4 L733.5,1506.2 L734.0,1507.0 L734.6,1508.0 L735.2,1509.0 L735.9,1510.0 L736.5,1511.0 L737.2,1512.1 L737.8,1513.2 L738.4,1514.3 L739.1,1515.4 L739.7,1516.5 L740.3,1517.6 L740.9,1518.8 L741.4,1519.9 L741.9,1521.1 L742.5,1522.3 L743.0,1523.5 L743.4,1524.8 L743.9,1526.0 L744.3,1527.2 L744.8,1528.5 L745.2,1529.8 L745.7,1531.1 L746.1,1532.4 L746.5,1533.7 L747.0,1535.0 L747.5,1536.4 L748.0,1537.9 L748.5,1539.3 L749.0,1540.7 L749.5,1542.2 L750.0,1543.6 L750.5,1545.1 L751.0,1546.6 L751.5,1548.2 L752.0,1549.8 L752.5,1551.5 L753.0,1553.2 L753.7,1555.6 L754.4,1558.1 L755.1,1560.8 L755.8,1563.5 L756.5,1566.3 L757.2,1569.2 L757.9,1572.0 L758.6,1574.9 L759.3,1577.8 L760.0,1580.7 L760.7,1583.6 L761.3,1586.4 L761.9,1589.2 L762.5,1591.9 L763.1,1594.7 L763.7,1597.5 L764.3,1600.3 L764.8,1603.0 L765.4,1605.8 L765.9,1608.6 L766.5,1611.4 L767.0,1614.1 L767.5,1616.9 L768.0,1619.7 L768.5,1622.5 L769.0,1625.2 L769.4,1628.0 L769.8,1630.8 L770.3,1633.6 L770.7,1636.4 L771.1,1639.1 L771.5,1641.9 L771.9,1644.7 L772.4,1647.5 L772.8,1650.2 L773.3,1653.0 L773.8,1655.8 L774.3,1658.5 L774.8,1661.3 L775.3,1664.1 L775.8,1666.8 L776.4,1669.6 L776.9,1672.4 L777.4,1675.1 L778.0,1677.9 L778.5,1680.7 L779.1,1683.4 L779.6,1686.2 L780.1,1689.0 L780.7,1691.7 L781.3,1694.5 L781.8,1697.3 L782.4,1700.1 L783.0,1702.8 L783.5,1705.6 L784.1,1708.4 L784.6,1711.2 L785.2,1713.9 L785.8,1716.7 L786.3,1719.5 L786.8,1722.3 L787.4,1725.0 L787.9,1727.8 L788.4,1730.6 L788.9,1733.4 L789.4,1736.2 L789.9,1738.9 L790.5,1741.7 L791.0,1744.5 L791.5,1747.3 L792.1,1750.0 L792.6,1752.8 L793.2,1755.6 L793.7,1758.3 L794.3,1761.1 L794.9,1763.9 L795.5,1766.6 L796.2,1769.4 L796.8,1772.1 L797.4,1774.9 L797.9,1777.7 L798.5,1780.4 L799.1,1783.2 L799.6,1786.0 L800.1,1788.8 L800.6,1791.7 L801.1,1794.5 L801.5,1797.4 L801.9,1800.2 L802.4,1803.1 L802.8,1806.0 L803.2,1808.8 L803.6,1811.6 L804.1,1814.5 L804.5,1817.2 L805.0,1820.0 L805.4,1822.5 L805.9,1825.0 L806.3,1827.3 L806.7,1829.6 L807.2,1832.0 L807.6,1834.3 L808.1,1836.6 L808.6,1839.1 L809.0,1841.6 L809.5,1844.2 L810.1,1847.0 L810.6,1850.0 L811.5,1855.1 L812.5,1860.6 L813.5,1866.5 L814.6,1872.7 L815.7,1879.1 L816.9,1885.7 L818.1,1892.4 L819.2,1899.1 L820.4,1905.7 L821.6,1912.2 L822.8,1918.5 L823.9,1924.5 L824.9,1929.6 L825.9,1934.7 L826.9,1939.8 L827.9,1944.8 L828.9,1949.7 L829.9,1954.6 L830.9,1959.5 L831.9,1964.3 L832.9,1969.0 L833.9,1973.7 L834.9,1978.4 L835.9,1983.0 L836.8,1987.1 L837.7,1991.2 L838.5,1995.3 L839.4,1999.3 L840.3,2003.4 L841.1,2007.3 L842.0,2011.2 L842.9,2015.1 L843.8,2018.9 L844.7,2022.5 L845.6,2026.1 L846.5,2029.6 L847.2,2032.4 L847.9,2035.2 L848.6,2038.0 L849.3,2040.7 L850.0,2043.5 L850.7,2046.1 L851.5,2048.7 L852.2,2051.1 L853.1,2053.4 L853.9,2055.5 L854.8,2057.3 L855.8,2059.0 L856.4,2059.9 L857.1,2060.6 L857.7,2061.3 L858.4,2061.9 L859.1,2062.5 L859.8,2063.0 L860.5,2063.5 L861.2,2064.0 L861.9,2064.4 L862.6,2064.9 L863.3,2065.4 L864.0,2066.0 L864.8,2065.3 L865.5,2064.7 L866.3,2064.1 L867.1,2063.5 L867.9,2062.9 L868.7,2062.4 L869.5,2061.7 L870.2,2061.1 L871.0,2060.3 L871.7,2059.5 L872.4,2058.6 L873.0,2057.6 L874.0,2055.6 L874.9,2053.4 L875.6,2050.9 L876.3,2048.2 L876.9,2045.3 L877.5,2042.2 L878.1,2039.1 L878.6,2035.9 L879.1,2032.6 L879.7,2029.4 L880.3,2026.1 L881.0,2023.0 L881.8,2019.4 L882.7,2015.6 L883.6,2011.8 L884.5,2008.0 L885.4,2004.1 L886.3,2000.1 L887.2,1996.2 L888.1,1992.2 L889.0,1988.2 L889.9,1984.2 L890.8,1980.3 L891.7,1976.4 L892.6,1972.5 L893.5,1968.6 L894.4,1964.7 L895.3,1960.7 L896.3,1956.8 L897.2,1952.9 L898.1,1949.0 L899.0,1945.1 L899.9,1941.2 L900.7,1937.4 L901.6,1933.6 L902.4,1929.8 L903.1,1926.4 L903.8,1923.0 L904.5,1919.6 L905.2,1916.3 L905.9,1913.0 L906.6,1909.7 L907.2,1906.4 L907.9,1903.2 L908.5,1899.9 L909.1,1896.6 L909.8,1893.3 L910.4,1890.0 L911.0,1886.7 L911.7,1883.3 L912.3,1879.9 L913.0,1876.5 L913.6,1873.1 L914.2,1869.7 L914.8,1866.3 L915.4,1862.9 L916.0,1859.6 L916.6,1856.3 L917.2,1853.1 L917.7,1850.0 L918.1,1847.4 L918.6,1844.8 L919.0,1842.2 L919.4,1839.8 L919.8,1837.3 L920.2,1834.9 L920.5,1832.4 L920.9,1830.0 L921.3,1827.5 L921.7,1825.1 L922.1,1822.6 L922.5,1820.0 L923.0,1817.2 L923.4,1814.4 L923.9,1811.6 L924.3,1808.8 L924.8,1806.0 L925.2,1803.1 L925.7,1800.2 L926.2,1797.4 L926.7,1794.5 L927.2,1791.7 L927.7,1788.8 L928.2,1786.0 L928.7,1783.2 L929.3,1780.4 L929.8,1777.7 L930.4,1774.9 L930.9,1772.1 L931.5,1769.4 L932.1,1766.6 L932.6,1763.9 L933.2,1761.1 L933.8,1758.3 L934.3,1755.6 L934.9,1752.8 L935.5,1750.0 L936.0,1747.3 L936.5,1744.5 L937.1,1741.7 L937.6,1738.9 L938.2,1736.2 L938.7,1733.4 L939.3,1730.6 L939.8,1727.8 L940.4,1725.0 L940.9,1722.3 L941.5,1719.5 L942.1,1716.7 L942.6,1713.9 L943.2,1711.2 L943.8,1708.4 L944.4,1705.6 L945.0,1702.8 L945.6,1700.1 L946.2,1697.3 L946.8,1694.5 L947.3,1691.7 L947.9,1689.0 L948.5,1686.2 L949.1,1683.4 L949.6,1680.7 L950.2,1677.9 L950.8,1675.1 L951.3,1672.4 L951.9,1669.6 L952.5,1666.8 L953.0,1664.1 L953.6,1661.3 L954.1,1658.5 L954.7,1655.8 L955.2,1653.0 L955.7,1650.2 L956.3,1647.5 L956.8,1644.7 L957.3,1641.9 L957.8,1639.1 L958.4,1636.4 L958.9,1633.6 L959.4,1630.8 L959.9,1628.0 L960.4,1625.2 L961.0,1622.5 L961.5,1619.7 L962.0,1616.9 L962.6,1614.1 L963.1,1611.4 L963.7,1608.6 L964.3,1605.8 L964.8,1603.0 L965.4,1600.3 L966.0,1597.5 L966.5,1594.7 L967.1,1591.9 L967.6,1589.2 L968.2,1586.4 L968.7,1583.6 L969.3,1580.7 L969.8,1577.9 L970.4,1575.0 L970.9,1572.0 L971.4,1569.2 L972.0,1566.3 L972.5,1563.5 L973.1,1560.8 L973.6,1558.1 L974.2,1555.6 L974.8,1553.2 L975.3,1551.5 L975.7,1549.8 L976.2,1548.2 L976.7,1546.6 L977.1,1545.1 L977.6,1543.6 L978.1,1542.2 L978.6,1540.7 L979.1,1539.3 L979.5,1537.9 L980.0,1536.4 L980.5,1535.0 L980.9,1533.7 L981.3,1532.4 L981.8,1531.1 L982.2,1529.8 L982.6,1528.5 L983.0,1527.2 L983.4,1526.0 L983.8,1524.7 L984.3,1523.5 L984.7,1522.3 L985.1,1521.1 L985.6,1519.9 L986.0,1518.8 L986.4,1517.8 L986.9,1516.8 L987.3,1515.7 L987.7,1514.7 L988.2,1513.7 L988.6,1512.7 L989.1,1511.8 L989.5,1510.8 L990.0,1509.9 L990.5,1508.9 L991.0,1508.0 L991.5,1507.1 L992.0,1506.3 L992.4,1505.4 L992.9,1504.5 L993.4,1503.7 L993.9,1502.8 L994.5,1502.0 L995.0,1501.2 L995.6,1500.5 L996.2,1499.8 L996.8,1499.1 L997.5,1498.5 L998.2,1497.9 L998.9,1497.4 L999.7,1496.9 L1000.5,1496.3 L1001.3,1495.9 L1002.2,1495.4 L1003.1,1495.0 L1003.9,1494.7 L1004.8,1494.4 L1005.6,1494.2 L1006.4,1494.1 L1007.2,1494.1 L1007.9,1494.2 L1008.7,1494.3 L1009.4,1494.6 L1010.1,1494.9 L1010.8,1495.2 L1011.5,1495.6 L1012.2,1496.1 L1012.9,1496.6 L1013.6,1497.0 L1014.3,1497.5 L1014.9,1498.0 L1015.5,1498.5 L1016.1,1499.0 L1016.6,1499.4 L1017.1,1499.9 L1017.6,1500.4 L1018.1,1500.9 L1018.6,1501.4 L1019.0,1501.9 L1019.5,1502.5 L1019.9,1503.1 L1020.4,1503.7 L1020.9,1504.3 L1021.4,1505.0 L1022.1,1506.0 L1022.9,1507.1 L1023.7,1508.2 L1024.5,1509.4 L1025.3,1510.7 L1026.1,1512.0 L1026.9,1513.3 L1027.7,1514.6 L1028.4,1516.0 L1029.2,1517.3 L1029.9,1518.6 L1030.5,1519.9 L1031.1,1521.1 L1031.6,1522.4 L1032.1,1523.6 L1032.6,1524.8 L1033.1,1526.1 L1033.5,1527.3 L1033.9,1528.6 L1034.3,1529.8 L1034.8,1531.1 L1035.2,1532.4 L1035.6,1533.7 L1036.0,1535.0 L1036.4,1536.4 L1036.9,1537.9 L1037.3,1539.3 L1037.7,1540.7 L1038.1,1542.2 L1038.5,1543.6 L1038.9,1545.1 L1039.3,1546.7 L1039.7,1548.2 L1040.1,1549.8 L1040.5,1551.5 L1041.0,1553.2 L1041.6,1555.6 L1042.3,1558.2 L1043.0,1560.8 L1043.7,1563.5 L1044.5,1566.3 L1045.2,1569.2 L1046.0,1572.1 L1046.7,1575.0 L1047.5,1577.9 L1048.2,1580.7 L1049.0,1583.6 L1049.7,1586.4 L1050.4,1589.2 L1051.1,1591.9 L1051.8,1594.7 L1052.5,1597.5 L1053.2,1600.3 L1053.9,1603.0 L1054.6,1605.8 L1055.2,1608.6 L1055.9,1611.4 L1056.6,1614.1 L1057.3,1616.9 L1058.0,1619.7 L1058.7,1622.5 L1059.4,1625.3 L1060.1,1628.0 L1060.8,1630.8 L1061.5,1633.6 L1062.1,1636.4 L1062.8,1639.1 L1063.5,1641.9 L1064.2,1644.7 L1064.9,1647.5 L1065.6,1650.2 L1066.3,1653.0 L1067.0,1655.8 L1067.7,1658.5 L1068.3,1661.3 L1069.0,1664.1 L1069.7,1666.8 L1070.4,1669.6 L1071.0,1672.4 L1071.7,1675.1 L1072.4,1677.9 L1073.1,1680.7 L1073.9,1683.4 L1074.6,1686.2 L1075.4,1689.0 L1076.1,1691.8 L1076.9,1694.5 L1077.7,1697.3 L1078.4,1700.1 L1079.2,1702.9 L1080.0,1705.7 L1080.9,1708.4 L1081.7,1711.2 L1082.5,1714.0 L1083.4,1716.7 L1084.3,1719.5 L1085.2,1722.3 L1086.1,1725.1 L1087.0,1727.9 L1087.9,1730.7 L1088.9,1733.5 L1089.8,1736.3 L1090.8,1739.1 L1091.8,1741.9 L1092.8,1744.6 L1093.9,1747.4 L1095.0,1750.1 L1096.2,1752.8 L1097.4,1755.5 L1098.7,1758.2 L1100.0,1760.9 L1101.3,1763.7 L1102.7,1766.4 L1104.1,1769.1 L1105.5,1771.7 L1107.0,1774.3 L1108.4,1776.8 L1109.9,1779.3 L1111.4,1781.7 L1112.9,1784.0 L1114.2,1785.9 L1115.5,1787.7 L1116.8,1789.5 L1118.2,1791.3 L1119.5,1793.0 L1120.9,1794.6 L1122.3,1796.3 L1123.6,1797.9 L1125.0,1799.4 L1126.3,1801.0 L1127.7,1802.5 L1129.0,1804.0 L1130.1,1805.3 L1131.3,1806.5 L1132.4,1807.7 L1133.5,1808.9 L1134.7,1810.1 L1135.8,1811.2 L1136.9,1812.4 L1138.0,1813.5 L1139.1,1814.6 L1140.2,1815.7 L1141.3,1816.9 L1142.3,1818.0 L1143.2,1819.1 L1144.2,1820.1 L1145.1,1821.1 L1146.0,1822.1 L1146.9,1823.1 L1147.8,1824.2 L1148.7,1825.2 L1149.6,1826.2 L1150.4,1827.3 L1151.3,1828.4 L1152.1,1829.5 L1153.0,1830.6 L1153.9,1831.9 L1154.8,1833.2 L1155.8,1834.5 L1156.7,1835.9 L1157.6,1837.2 L1158.5,1838.6 L1159.3,1840.0 L1160.2,1841.4 L1161.1,1842.9 L1161.9,1844.3 L1162.8,1845.8 L1163.6,1847.2 L1164.4,1848.7 L1165.2,1850.2 L1166.0,1851.8 L1166.8,1853.3 L1167.6,1854.9 L1168.4,1856.4 L1169.1,1858.0 L1169.9,1859.6 L1170.6,1861.2 L1171.4,1862.7 L1172.1,1864.3 L1172.9,1865.9 L1173.7,1867.5 L1174.5,1869.1 L1175.2,1870.7 L1176.0,1872.3 L1176.8,1873.9 L1177.5,1875.6 L1178.3,1877.2 L1179.1,1878.8 L1179.9,1880.4 L1180.6,1882.0 L1181.4,1883.6 L1182.2,1885.2 L1183.0,1886.8 L1183.7,1888.3 L1184.5,1889.9 L1185.2,1891.4 L1186.0,1893.0 L1186.8,1894.5 L1187.5,1896.1 L1188.3,1897.6 L1189.1,1899.2 L1189.9,1900.7 L1190.7,1902.3 L1191.5,1903.8 L1192.3,1905.4 L1193.2,1906.9 L1194.1,1908.5 L1195.0,1910.0 L1195.9,1911.6 L1196.8,1913.1 L1197.7,1914.7 L1198.6,1916.2 L1199.5,1917.8 L1200.4,1919.3 L1201.3,1920.9 L1202.2,1922.4 L1203.1,1923.9 L1203.9,1925.4 L1204.7,1927.0 L1205.6,1928.5 L1206.4,1930.0 L1207.2,1931.6 L1208.1,1933.1 L1209.0,1934.6 L1209.9,1936.1 L1210.8,1937.5 L1211.8,1939.0 L1212.8,1940.4 L1213.9,1941.8 L1215.1,1943.3 L1216.3,1944.8 L1217.5,1946.2 L1218.8,1947.6 L1220.1,1949.1 L1221.4,1950.4 L1222.8,1951.7 L1224.1,1953.0 L1225.4,1954.2 L1226.8,1955.3 L1228.1,1956.4 L1229.2,1957.2 L1230.3,1957.9 L1231.3,1958.6 L1232.4,1959.3 L1233.5,1959.9 L1234.6,1960.4 L1235.7,1961.0 L1236.8,1961.5 L1237.9,1962.0 L1239.1,1962.6 L1240.2,1963.1 L1241.4,1963.7 L1242.7,1964.3 L1244.1,1964.9 L1245.4,1965.4 L1246.8,1965.9 L1248.2,1966.4 L1249.7,1966.9 L1251.1,1967.4 L1252.5,1968.0 L1253.9,1968.6 L1255.3,1969.3 L1256.7,1970.1 L1258.1,1971.0 L1259.8,1972.3 L1261.5,1973.7 L1263.2,1975.3 L1265.0,1977.1 L1266.7,1978.9 L1268.4,1980.7 L1270.0,1982.6 L1271.7,1984.5 L1273.3,1986.4 L1274.9,1988.2 L1276.5,1990.0 L1278.0,1991.6 L1279.2,1992.9 L1280.4,1994.2 L1281.6,1995.4 L1282.7,1996.6 L1283.9,1997.8 L1285.0,1999.0 L1286.1,2000.2 L1287.2,2001.4 L1288.3,2002.5 L1289.4,2003.6 L1290.5,2004.7 L1291.7,2005.8 L1292.8,2006.8 L1293.9,2007.7 L1295.0,2008.6 L1296.1,2009.5 L1297.2,2010.4 L1298.3,2011.3 L1299.4,2012.1 L1300.6,2013.0 L1301.7,2013.8 L1302.8,2014.7 L1303.9,2015.6 L1305.0,2016.5 L1306.1,2017.5 L1307.2,2018.4 L1308.3,2019.5 L1309.4,2020.5 L1310.5,2021.6 L1311.5,2022.6 L1312.6,2023.6 L1313.7,2024.6 L1314.9,2025.5 L1316.0,2026.4 L1317.1,2027.1 L1318.3,2027.8 L1319.4,2028.3 L1320.4,2028.7 L1321.5,2029.1 L1322.6,2029.5 L1323.7,2029.8 L1324.8,2030.0 L1326.0,2030.3 L1327.1,2030.5 L1328.2,2030.6 L1329.4,2030.8 L1330.5,2031.0 L1331.6,2031.1 L1332.7,2031.2 L1333.8,2031.3 L1334.9,2031.4 L1336.1,2031.4 L1337.2,2031.4 L1338.3,2031.5 L1339.4,2031.4 L1340.5,2031.4 L1341.7,2031.4 L1342.8,2031.4 L1343.9,2031.4 L1345.0,2031.4 L1346.1,2031.4 L1347.2,2031.4 L1348.3,2031.4 L1349.4,2031.4 L1350.5,2031.4 L1351.6,2031.4 L1352.7,2031.4 L1353.8,2031.4 L1354.9,2031.4 L1356.0,2031.4 L1357.1,2031.4 L1358.2,2031.4 L1359.3,2031.4 L1360.4,2031.4 L1361.5,2031.4 L1362.6,2031.5 L1363.7,2031.5 L1364.9,2031.5 L1366.0,2031.5 L1367.1,2031.6 L1368.2,2031.6 L1369.3,2031.7 L1370.4,2031.9 L1371.5,2032.0 L1372.6,2032.2 L1373.7,2032.4 L1374.9,2032.6 L1376.0,2032.8 L1377.1,2033.1 L1378.2,2033.4 L1379.4,2033.6 L1380.5,2034.0 L1381.6,2034.3 L1382.7,2034.6 L1383.8,2035.0 L1384.9,2035.4 L1386.0,2035.8 L1387.2,2036.3 L1388.3,2036.8 L1389.4,2037.3 L1390.5,2037.8 L1391.6,2038.4 L1392.7,2038.9 L1393.8,2039.5 L1394.9,2040.1 L1396.0,2040.6 L1397.1,2041.2 L1398.2,2041.8 L1399.3,2042.4 L1400.5,2043.1 L1401.7,2043.7 L1402.9,2044.4 L1404.2,2045.1 L1405.4,2045.8 L1406.5,2046.5 L1407.7,2047.2 L1408.7,2047.8 L1409.8,2048.4 L1410.7,2048.9 L1411.5,2049.4 L1411.9,2049.6 L1412.2,2049.8 L1412.6,2050.0 L1412.8,2050.2 L1413.1,2050.3 L1413.4,2050.5 L1413.7,2050.7 L1413.9,2050.8 L1414.2,2051.0 L1414.5,2051.1 L1414.9,2051.3 L1415.3,2051.5 L1416.1,2051.9 L1417.0,2052.4 L1418.0,2052.9 L1419.0,2053.4 L1420.1,2053.9 L1421.3,2054.5 L1422.4,2055.0 L1423.7,2055.5 L1424.9,2055.9 L1426.1,2056.3 L1427.4,2056.6 L1428.6,2056.8 L1430.0,2056.9 L1431.4,2056.9 L1432.9,2056.8 L1434.4,2056.6 L1435.9,2056.4 L1437.4,2056.0 L1439.0,2055.7 L1440.5,2055.3 L1442.2,2055.0 L1443.8,2054.6 L1445.5,2054.3 L1447.3,2054.0 L1449.7,2053.6 L1452.2,2053.3 L1454.8,2052.9 L1457.5,2052.4 L1460.3,2052.0 L1463.1,2051.6 L1465.9,2051.2 L1468.8,2050.7 L1471.6,2050.3 L1474.4,2049.9 L1477.2,2049.4 L1480.0,2049.0" fill="none" stroke="#000" stroke-width="13" stroke-linecap="round" stroke-linejoin="round"/>
<path d="M250.0,2061.5 L308.5,2055.5 M359.0,2046.0 L397.7,2027.5 M436.3,1993.0 L468.0,1951.7 M497.5,1901.0 L521.5,1856.0 M548.0,1802.6 L571.0,1757.5 M600.4,1713.6 L651.0,1680.3 M689.5,1707.1 L717.5,1751.0 M741.4,1804.5 L759.8,1850.0 M781.4,1906.7 L800.6,1953.8 M823.9,2006.4 L846.5,2047.0 M889.7,2032.3 L913.0,1987.0 M935.0,1932.5 L954.3,1883.3 M974.0,1832.0 L998.0,1779.0 M1018.6,1735.1 L1044.6,1699.2 M1095.8,1684.6 L1096.9,1685.0 L1098.0,1685.4 L1098.9,1685.8 L1099.8,1686.2 L1100.7,1686.6 L1101.6,1687.1 L1102.4,1687.6 L1103.2,1688.2 L1104.1,1688.8 L1105.0,1689.5 L1106.0,1690.3 L1107.0,1691.2 L1109.3,1693.4 L1111.9,1696.0 L1114.6,1699.0 L1117.5,1702.4 L1120.4,1706.0 L1123.4,1709.8 L1126.5,1713.8 L1129.5,1717.9 L1132.4,1722.0 L1135.2,1726.0 L1137.9,1730.0 L1140.4,1733.8 M1169.6,1785.0 L1192.5,1830.6 M1218.4,1880.5 L1242.4,1924.4 M1272.0,1969.7 L1307.0,2006.8 M1353.6,2036.3 L1404.0,2055.7 M1455.0,2061.0 L1480.0,2062.0" fill="none" stroke="#f00" stroke-width="13" stroke-linecap="round" stroke-linejoin="round"/>
<path d="M250.0,2054.5 L303.0,2049.0 M331.4,2044.2 L334.1,2043.7 L337.0,2043.0 L340.4,2042.2 L343.8,2041.4 L344.2,2041.3 M371.9,2033.3 L372.3,2033.2 L375.7,2032.1 L379.0,2031.0 L381.8,2030.0 L384.4,2029.1 M411.0,2018.0 L451.0,1998.0 M474.1,1980.0 L475.3,1978.9 L477.5,1977.0 L480.0,1974.8 L482.6,1972.5 L484.1,1971.0 M505.1,1950.5 L505.6,1950.0 L508.0,1947.5 L510.2,1945.1 L512.5,1942.8 L514.4,1940.7 M533.4,1918.4 L560.0,1879.8 M574.3,1853.1 L575.0,1851.8 L576.5,1848.9 L578.0,1846.0 L579.7,1842.8 L580.7,1840.8 M594.5,1813.9 L594.9,1813.0 L596.5,1809.7 L598.0,1806.5 L599.3,1803.7 L600.3,1801.3 M612.0,1773.4 L631.0,1729.5 M640.9,1701.1 L641.0,1700.9 L642.0,1698.0 L643.0,1695.0 L644.1,1691.7 L645.3,1688.3 L645.4,1688.1 M655.0,1659.6 L655.9,1656.9 L657.0,1653.5 L658.0,1650.4 L658.9,1647.4 L659.2,1646.5 M668.0,1617.7 L681.5,1572.5 M689.9,1543.9 L690.3,1542.6 L691.1,1539.6 L692.0,1536.5 L692.9,1533.1 L693.6,1530.7 M701.2,1501.9 L701.3,1501.8 L702.1,1498.4 L703.0,1495.0 L703.8,1492.0 L704.5,1489.0 L704.6,1488.7 M711.8,1459.7 L723.8,1413.0 M730.7,1385.1 L731.0,1383.9 L731.7,1381.0 L732.4,1378.0 L733.2,1374.9 L734.0,1371.8 L734.3,1370.5 M740.5,1345.9 L741.2,1343.2 L742.0,1340.0 M746.4,1376.0 L751.7,1422.4 M754.3,1452.0 L754.4,1453.7 L754.7,1456.8 L755.0,1460.0 L755.3,1463.4 L755.6,1465.5 M758.9,1495.0 L758.9,1495.2 L759.3,1498.6 L759.7,1502.0 L760.0,1505.1 L760.4,1508.1 L760.4,1508.5 M763.7,1538.0 L770.5,1586.0 M773.9,1615.5 L774.0,1615.9 L774.3,1618.9 L774.7,1622.0 L775.1,1625.5 L775.5,1629.0 M779.1,1658.5 L779.2,1658.9 L779.6,1662.5 L780.0,1666.0 L780.3,1669.1 L780.7,1672.1 M784.0,1701.6 L793.3,1749.5 M797.7,1778.9 L798.1,1781.6 L798.5,1784.8 L799.0,1788.0 L799.5,1791.3 L799.7,1792.4 M804.0,1821.8 L804.5,1824.7 L805.0,1828.0 L805.5,1831.1 L806.0,1834.1 L806.2,1835.3 M811.2,1864.6 L819.9,1911.2 M825.4,1941.1 L825.5,1941.8 L826.1,1944.9 L826.8,1948.0 L827.5,1951.4 L828.3,1954.7 M835.3,1984.2 L835.9,1986.6 L836.8,1990.0 L837.6,1993.2 L838.4,1996.4 L838.7,1997.7 M846.5,2027.0 L858.0,2058.0 M878.4,2031.6 L878.8,2030.5 L879.2,2029.6 L879.6,2028.7 L879.9,2027.9 L880.2,2027.1 L880.5,2026.4 L880.8,2025.6 L881.1,2024.8 L881.4,2024.0 L881.7,2023.1 L882.0,2022.1 L882.4,2021.0 M890.5,1989.7 L891.2,1986.9 L892.0,1983.7 L892.8,1980.6 L893.5,1977.6 M901.0,1945.8 L909.7,1902.6 M915.1,1871.9 L915.3,1870.5 L915.8,1867.3 L916.3,1864.0 L916.8,1860.6 L917.2,1857.8 M920.9,1826.9 L921.0,1826.0 L921.5,1822.6 L922.0,1819.2 L922.4,1815.8 L922.8,1812.8 M927.6,1782.0 L937.5,1742.0 M942.2,1712.2 L942.5,1710.3 L943.0,1706.7 L943.5,1703.2 L944.0,1699.6 L944.1,1698.6 M948.4,1668.8 L948.8,1666.0 L949.2,1662.4 L949.6,1658.9 L950.0,1655.5 L950.0,1655.1 M952.0,1625.0 L960.0,1574.5 M962.7,1544.8 L962.7,1544.6 L963.0,1541.6 L963.3,1538.5 L963.6,1535.2 L964.0,1531.9 L964.1,1531.2 M967.6,1501.6 L967.6,1501.4 L968.0,1498.0 L968.4,1494.7 L968.8,1491.4 L969.3,1488.1 L969.3,1488.0 M973.0,1458.4 L977.0,1413.0 M980.9,1382.5 L980.9,1382.1 L981.3,1379.1 L981.7,1376.0 L982.1,1373.0 L982.4,1370.0 L982.5,1369.2 M986.0,1340.0 L986.7,1343.1 L987.4,1346.1 L987.8,1348.0 M994.4,1377.0 L1005.8,1423.8 M1013.3,1453.0 L1013.4,1453.4 L1014.2,1456.4 L1015.0,1459.5 L1015.9,1462.9 L1016.8,1466.3 M1024.4,1495.5 L1025.1,1498.2 L1026.0,1501.6 L1026.8,1504.7 L1027.6,1507.8 L1027.9,1508.9 M1035.6,1538.0 L1049.0,1583.4 M1056.2,1612.7 L1056.5,1613.8 L1057.3,1616.9 L1058.2,1620.0 L1059.2,1623.4 L1060.0,1626.0 M1069.9,1654.5 L1071.0,1657.7 L1072.2,1661.0 L1073.2,1664.0 L1074.3,1667.0 L1074.5,1667.5 M1084.5,1696.0 L1099.8,1736.5 M1106.4,1753.0 L1126.0,1792.8 M1136.8,1821.4 L1137.8,1823.9 L1139.1,1826.9 L1140.5,1830.0 L1142.1,1833.2 L1142.6,1834.2 M1157.8,1860.7 L1158.4,1861.9 L1160.3,1865.0 L1162.0,1868.0 L1163.5,1870.7 L1164.7,1872.9 M1180.0,1899.4 L1207.6,1933.4 M1226.7,1955.9 L1227.0,1956.2 L1229.0,1958.3 L1231.5,1960.7 L1234.0,1963.2 L1236.3,1965.3 M1258.9,1984.3 L1259.5,1984.8 L1262.4,1987.0 L1265.0,1988.9 L1267.7,1990.8 L1269.8,1992.3 M1294.8,2007.9 L1337.7,2029.8 M1367.4,2036.7 L1370.3,2037.3 L1373.4,2038.0 L1376.9,2038.8 L1380.5,2039.7 L1381.1,2039.8 M1410.8,2046.8 L1413.8,2047.4 L1417.4,2048.0 L1420.6,2048.5 L1423.9,2048.9 L1424.6,2049.0 M1455.0,2052.0 L1480.0,2056.0" fill="none" stroke="#00f" stroke-width="13" stroke-linecap="round" stroke-linejoin="round"/>
<path d="M250.0,2015.0 L303.0,1990.0 M327.1,1973.2 L327.3,1973.1 L329.6,1971.3 L332.0,1969.5 L334.5,1967.6 L336.9,1965.8 L338.9,1964.4 M361.8,1946.0 L403.0,1906.4 M422.8,1883.0 L424.0,1881.5 L426.0,1879.0 L428.0,1876.5 L430.0,1874.0 L431.9,1871.6 L432.4,1871.0 M451.0,1846.5 L486.9,1794.6 M502.3,1769.1 L502.9,1768.2 L504.4,1765.6 L506.0,1763.0 L507.6,1760.4 L509.2,1757.8 L510.1,1756.4 M525.8,1731.0 L556.5,1676.3 M569.9,1650.0 L571.1,1647.5 L572.6,1644.8 L574.0,1642.0 L575.4,1639.4 L576.7,1636.9 M591.0,1611.0 L620.3,1559.0 M634.3,1534.2 L635.0,1533.0 L636.5,1530.5 L638.0,1528.0 L639.5,1525.5 L641.0,1523.0 L641.6,1522.0 M657.0,1498.0 L693.0,1453.0 M723.2,1434.0 L724.7,1433.5 L726.2,1433.1 L727.6,1432.8 L729.0,1432.5 L730.4,1432.3 L731.8,1432.2 L733.2,1432.1 L734.5,1432.0 L735.9,1431.9 L737.0,1431.8 M760.4,1443.2 L795.0,1499.0 M805.3,1528.2 L806.1,1531.0 L807.0,1534.0 L808.0,1537.1 L808.9,1540.3 L809.7,1543.0 M817.6,1573.0 L828.5,1629.3 M835.1,1660.4 L835.3,1661.6 L835.9,1664.8 L836.5,1668.0 L837.1,1671.2 L837.6,1674.5 L837.9,1676.0 M842.3,1707.5 L847.7,1765.0 M851.3,1795.4 L851.3,1795.9 L851.7,1798.9 L852.0,1802.0 L852.3,1805.2 L852.7,1808.3 L852.9,1810.6 M855.6,1841.0 L858.5,1907.0 M860.6,1934.0 L860.6,1934.6 L860.8,1937.3 L861.0,1940.0 L861.2,1942.8 L861.3,1945.0 M862.5,1975.0 L864.0,2063.0 M864.0,2063.0 L866.0,1952.0 M867.4,1918.0 L867.5,1916.6 L867.6,1913.3 L867.8,1910.0 L868.0,1906.9 L868.1,1903.8 L868.2,1903.0 M870.0,1873.0 L874.0,1812.0 M877.6,1781.0 L878.0,1778.1 L878.3,1775.0 L878.6,1771.7 L879.0,1768.4 L879.3,1765.5 M882.4,1734.5 L890.0,1680.6 M895.4,1648.4 L895.5,1647.6 L896.1,1644.3 L896.7,1641.0 L897.3,1637.6 L897.9,1634.3 L898.2,1632.3 M904.4,1600.2 L917.3,1547.6 M925.9,1518.3 L925.9,1518.3 L926.9,1515.2 L927.9,1512.1 L929.0,1509.0 L930.0,1506.1 L930.7,1503.8 M942.6,1475.8 L993.1,1431.9 M1015.5,1439.3 L1016.3,1439.6 L1018.5,1440.7 L1020.7,1442.0 L1023.1,1443.6 L1025.5,1445.4 L1025.9,1445.6 M1048.4,1468.5 L1085.0,1520.4 M1101.5,1548.5 L1134.5,1607.8 M1149.6,1633.9 L1150.7,1636.1 L1152.1,1638.8 L1153.4,1641.6 L1154.7,1644.3 L1155.9,1647.1 L1156.1,1647.5 M1168.4,1675.0 L1202.4,1726.8 M1216.4,1753.3 L1216.5,1753.5 L1217.9,1756.1 L1219.3,1758.7 L1220.7,1761.3 L1222.1,1763.9 L1223.4,1766.5 M1239.5,1791.7 L1272.6,1841.5 M1289.7,1863.7 L1289.9,1864.0 L1291.6,1866.3 L1293.3,1868.7 L1295.0,1871.0 L1296.7,1873.2 L1298.0,1875.0 M1316.0,1896.5 L1358.9,1940.3 M1380.2,1958.7 L1382.0,1960.1 L1384.3,1961.8 L1386.7,1963.6 L1389.0,1965.3 L1391.3,1966.8 L1391.5,1967.0 M1415.5,1981.8 L1480.0,2016.5" fill="none" stroke="#008000" stroke-width="13" stroke-linecap="round" stroke-linejoin="round"/>
</g>
<g stroke="#000" stroke-width="4.9" fill="none" stroke-linecap="round">
<rect x="255.45" y="1131.35" width="1217.1" height="930.0500000000002" stroke-linejoin="miter"/>
<line x1="255.4" y1="2061.4" x2="255.4" y2="2073.6"/>
<line x1="377.2" y1="2061.4" x2="377.2" y2="2084.6"/>
<line x1="498.9" y1="2061.4" x2="498.9" y2="2073.6"/>
<line x1="620.6" y1="2061.4" x2="620.6" y2="2084.6"/>
<line x1="742.3" y1="2061.4" x2="742.3" y2="2073.6"/>
<line x1="864.0" y1="2061.4" x2="864.0" y2="2084.6"/>
<line x1="985.7" y1="2061.4" x2="985.7" y2="2073.6"/>
<line x1="1107.4" y1="2061.4" x2="1107.4" y2="2084.6"/>
<line x1="1229.1" y1="2061.4" x2="1229.1" y2="2073.6"/>
<line x1="1350.8" y1="2061.4" x2="1350.8" y2="2084.6"/>
<line x1="1472.5" y1="2061.4" x2="1472.5" y2="2073.6"/>
<line x1="255.45" y1="2061.4" x2="232.25" y2="2061.4"/>
<line x1="255.45" y1="1828.9" x2="243.25" y2="1828.9"/>
<line x1="255.45" y1="1596.4" x2="232.25" y2="1596.4"/>
<line x1="255.45" y1="1363.9" x2="243.25" y2="1363.9"/>
<line x1="255.45" y1="1131.3" x2="232.25" y2="1131.3"/>
</g>
<text transform="translate(234.70,971.70) scale(0.935,1)" font-size="64" text-anchor="end">0.0</text>
<text transform="translate(234.70,669.37) scale(0.935,1)" font-size="64" text-anchor="end">0.1</text>
<text transform="translate(234.70,367.03) scale(0.935,1)" font-size="64" text-anchor="end">0.2</text>
<text transform="translate(234.70,64.70) scale(0.935,1)" font-size="64" text-anchor="end">0.3</text>
<text transform="translate(394.20,1038.90) scale(0.935,1)" font-size="64" text-anchor="middle">-4</text>
<text transform="translate(635.60,1038.90) scale(0.935,1)" font-size="64" text-anchor="middle">-2</text>
<text transform="translate(877.00,1038.90) scale(0.935,1)" font-size="64" text-anchor="middle">0</text>
<text transform="translate(1118.40,1038.90) scale(0.935,1)" font-size="64" text-anchor="middle">2</text>
<text transform="translate(1359.80,1038.90) scale(0.935,1)" font-size="64" text-anchor="middle">4</text>
<text transform="translate(216.80,2080.70) scale(0.935,1)" font-size="64" text-anchor="end">0.0</text>
<text transform="translate(216.80,1615.67) scale(0.935,1)" font-size="64" text-anchor="end">0.1</text>
<text transform="translate(216.80,1150.65) scale(0.935,1)" font-size="64" text-anchor="end">0.2</text>
<text transform="translate(377.16,2147.90) scale(0.935,1)" font-size="64" text-anchor="middle">-4</text>
<text transform="translate(620.58,2147.90) scale(0.935,1)" font-size="64" text-anchor="middle">-2</text>
<text transform="translate(864.00,2147.90) scale(0.935,1)" font-size="64" text-anchor="middle">0</text>
<text transform="translate(1107.42,2147.90) scale(0.935,1)" font-size="64" text-anchor="middle">2</text>
<text transform="translate(1350.84,2147.90) scale(0.935,1)" font-size="64" text-anchor="middle">4</text>
<text transform="translate(877.00,1104.90) scale(0.915,1)" font-size="73.8" text-anchor="middle">x</text>
<text transform="translate(877.00,2239.90) scale(0.915,1)" font-size="73.8" text-anchor="middle">x</text>
<text transform="translate(296.20,117.20) scale(0.98,1)" font-size="61.5">(a)</text>
<text transform="translate(278.30,1222.10) scale(0.98,1)" font-size="61.5">(b)</text>
<g transform="translate(94.8,582) rotate(-90)">
<text font-size="71" xml:space="preserve"><tspan class="scr" font-size="62" x="-5.0" y="4.8" textLength="54.5" lengthAdjust="spacingAndGlyphs">𝒢</tspan><tspan font-size="43.2" x="42.0" y="29.5">+</tspan><tspan x="62.8" y="0" textLength="193.6" lengthAdjust="spacingAndGlyphs">(x,x',t)</tspan></text>
</g>
<g transform="translate(76.8,1670) rotate(-90)">
<text font-size="71" xml:space="preserve"><tspan class="scr" font-size="62" x="-5.0" y="4.8" textLength="54.5" lengthAdjust="spacingAndGlyphs">𝒢</tspan><tspan font-size="45" x="40.1" y="29.5">-</tspan><tspan x="51.6" y="0" textLength="193.6" lengthAdjust="spacingAndGlyphs">(x,x',t)</tspan></text>
</g>
<g stroke-linecap="round" fill="none">
<path d="M1147.2,91.9H1257.9" stroke="#000" stroke-width="12.4"/>
<path d="M1147.5,225.4H1198.5M1255.3,225.4H1257.6" stroke="#f00" stroke-width="13"/>
<path d="M1147.5,358.4H1193.5M1224.3,358.4H1236.7" stroke="#00f" stroke-width="13"/>
<path d="M1147.1,492H1209.1M1239.2,492H1252.8" stroke="#008000" stroke-width="12.2"/>
</g>
<text class="ser" font-size="51"><tspan x="1285.8" y="109.0">γ</tspan><tspan x="1317.2" y="114.6" font-size="56">=</tspan><tspan x="1359.4" y="109.0">1/2</tspan></text>
<text class="ser" font-size="51"><tspan x="1284.2" y="175.0">η</tspan><tspan x="1325.2" y="180.6" font-size="56">=</tspan><tspan x="1368.3" y="175.0">1/2</tspan></text>
<text class="ser" font-size="51"><tspan x="1296.9" y="242.0">γ</tspan><tspan x="1328.3" y="247.6" font-size="56">=</tspan><tspan x="1371.4" y="242.0">1</tspan></text>
<text class="ser" font-size="51"><tspan x="1284.2" y="308.4">η</tspan><tspan x="1325.2" y="314.0" font-size="56">=</tspan><tspan x="1368.3" y="308.4">1/2</tspan></text>
<text class="ser" font-size="51"><tspan x="1285.8" y="376.1">γ</tspan><tspan x="1317.2" y="381.7" font-size="56">=</tspan><tspan x="1359.4" y="376.1">1/3</tspan></text>
<text class="ser" font-size="51"><tspan x="1284.2" y="441.9">η</tspan><tspan x="1325.2" y="447.5" font-size="56">=</tspan><tspan x="1368.3" y="441.9">1/2</tspan></text>
<text class="ser" font-size="51"><tspan x="1285.8" y="508.85">γ</tspan><tspan x="1317.2" y="514.5" font-size="56">=</tspan><tspan x="1359.4" y="508.85">1</tspan></text>
<text class="ser" font-size="51"><tspan x="1284.2" y="575.9">η</tspan><tspan x="1325.2" y="581.5" font-size="56">=</tspan><tspan x="1365.1" y="581.5" font-size="56">−</tspan><tspan x="1408.2" y="575.9">1/2</tspan></text>
</svg>
</body></html>
